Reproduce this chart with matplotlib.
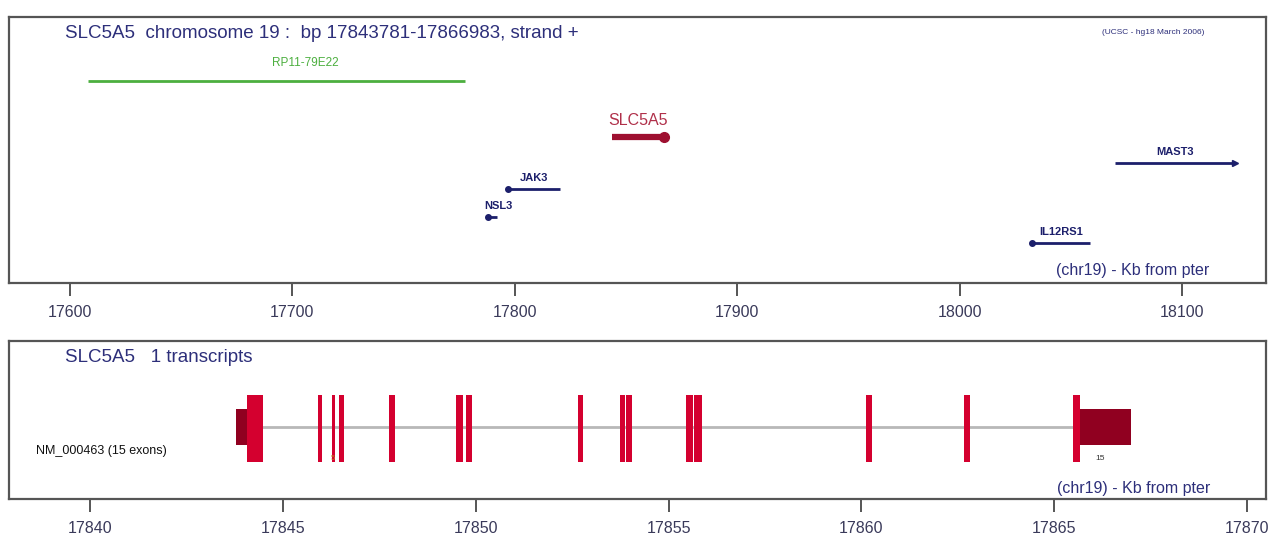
import matplotlib.pyplot as plt

plt.rcParams['font.family'] = ['Liberation Sans', 'DejaVu Sans']

# --- top panel: genes in the region (kb from pter) ---
gene_names = ['RP11-79E22', 'SLC5A5', 'MAST3', 'JAK3', 'NSL3', 'IL12RS1']
gene_start = [17608.1, 17843.781, 18069.9, 17796.9, 17788.0, 18032.6]
gene_end = [17777.6, 17866.983, 18123.8, 17820.3, 17792.0, 18058.6]
gene_strand = ['', '+', '+', '-', '-', '-']
gene_track = [64, 120, 146, 172, 200, 226]
gene_colors = ['#4caf3f', '#9e1030', '#1c1f6b', '#1c1f6b', '#1c1f6b', '#1c1f6b']

top_ticks = [17600, 17700, 17800, 17900, 18000, 18100]

# --- bottom panel: transcript NM_000463 exons (kb) ---
exon_start = [17844.08, 17845.92, 17846.28, 17846.46, 17847.74, 17849.49, 17849.74,
              17852.66, 17853.73, 17853.90, 17855.45, 17855.66, 17860.11, 17862.66, 17865.48]
exon_end = [17844.49, 17846.02, 17846.36, 17846.58, 17847.92, 17849.68, 17849.91,
            17852.77, 17853.88, 17854.04, 17855.63, 17855.87, 17860.27, 17862.82, 17865.67]
utr_start = [17843.781, 17865.67]
utr_end = [17844.08, 17866.983]

bottom_ticks = [17840, 17845, 17850, 17855, 17860, 17865, 17870]

navy = '#2d2f7a'
frame = '#555555'

fig = plt.figure(figsize=(12.69, 5.40), dpi=100)
ax1 = fig.add_axes([9 / 1269, 1 - 283 / 540, 1257 / 1269, 266 / 540])
ax2 = fig.add_axes([9 / 1269, 1 - 499 / 540, 1257 / 1269, 158 / 540])

for ax in (ax1, ax2):
    for s in ax.spines.values():
        s.set_color(frame)
        s.set_linewidth(1.6)
    ax.set_yticks([])
    ax.tick_params(axis='x', direction='out', length=9, width=1.4, color=frame,
                   labelsize=11.5, labelcolor='#3a3a5a', pad=7)

# top panel
ax1.set_xlim(17572.6, 18137.8)
ax1.set_ylim(266, 0)
ax1.set_xticks(top_ticks)

for i in range(len(gene_names)):
    s, e, y, c = gene_start[i], gene_end[i], gene_track[i], gene_colors[i]
    lw = 4.5 if gene_names[i] == 'SLC5A5' else 2.0
    ax1.plot([s, e], [y, y], color=c, lw=lw, solid_capstyle='butt')
    if gene_strand[i] == '+':
        if gene_names[i] == 'SLC5A5':
            ax1.plot(e, y, marker='o', color=c, ms=7)
        else:
            ax1.plot(e, y, marker='>', color=c, ms=5)
    elif gene_strand[i] == '-':
        ax1.plot(s, y, marker='o', color=c, ms=4)
    mid = (s + e) / 2
    if gene_names[i] == 'SLC5A5':
        ax1.text(mid, y - 9, gene_names[i], color='#b0304a', fontsize=11.5,
                 ha='center', va='bottom')
    elif gene_names[i] == 'RP11-79E22':
        ax1.text(17706, y - 12, gene_names[i], color=c, fontsize=8.5,
                 ha='center', va='bottom')
    elif gene_names[i] == 'NSL3':
        ax1.text(s + 4.5, y - 6, gene_names[i], color=c, fontsize=8,
                 fontweight='bold', ha='center', va='bottom')
    else:
        ax1.text(mid, y - 6, gene_names[i], color=c, fontsize=8,
                 fontweight='bold', ha='center', va='bottom')

ax1.text(17597.8, 17, 'SLC5A5  chromosome 19 :  bp 17843781-17866983, strand +',
         color=navy, fontsize=13.5, ha='left', va='center')
ax1.text(18087, 16, '(UCSC - hg18 March 2006)', color=navy, fontsize=6,
         ha='center', va='center')
ax1.text(18112.5, 253, '(chr19) - Kb from pter', color=navy, fontsize=11.5,
         ha='right', va='center')

# bottom panel
ax2.set_xlim(17837.9, 17870.49)
ax2.set_ylim(158, 0)
ax2.set_xticks(bottom_ticks)

ax2.plot([exon_end[0], exon_start[-1]], [86, 86], color='#b8b8b8', lw=2, zorder=1)
for s, e in zip(utr_start, utr_end):
    ax2.fill_between([s, e], 68, 104, color='#900020', lw=0, zorder=2)
for s, e in zip(exon_start, exon_end):
    ax2.fill_between([s, e], 54, 121, color='#d4002f', lw=0, zorder=3)

ax2.text(17838.6, 110, 'NM_000463 (15 exons)', fontsize=9, color='#111111',
         ha='left', va='center')
ax2.text(17866.2, 118, '15', fontsize=6, color='#333333', ha='center', va='center')
ax2.text(17846.3, 117, '5', fontsize=5.5, color='#c08020', ha='center', va='center')
ax2.text(17839.35, 17, 'SLC5A5   1 transcripts', color=navy, fontsize=13.5,
         ha='left', va='center')
ax2.text(17869.04, 147, '(chr19) - Kb from pter', color=navy, fontsize=11.5,
         ha='right', va='center')

fig.savefig('out.png', dpi=100)
